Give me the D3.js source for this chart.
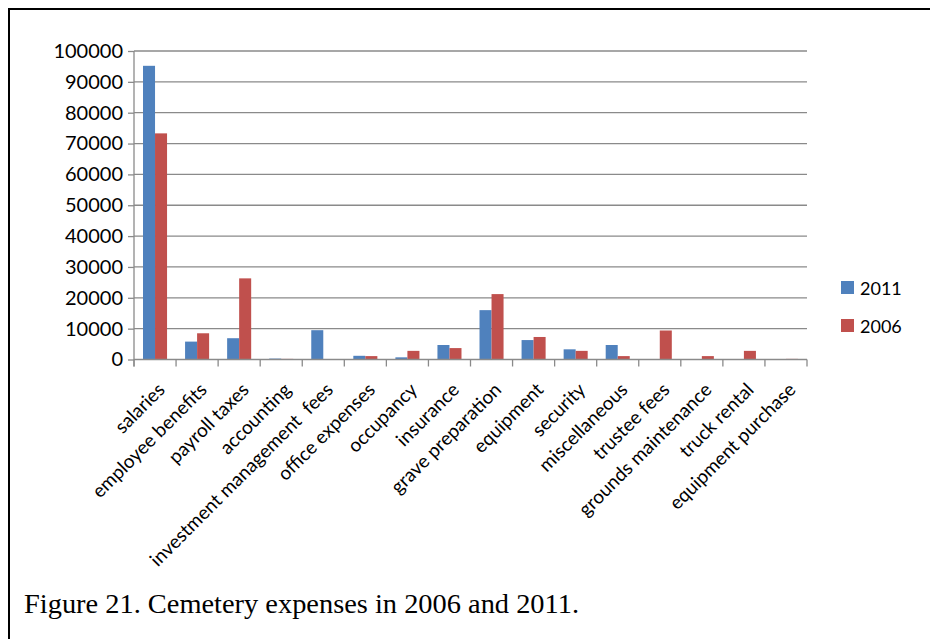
<!DOCTYPE html>
<html>
<head>
<meta charset="utf-8">
<script src="https://cdn.jsdelivr.net/npm/d3@7"></script>
<style>
  html, body { margin: 0; padding: 0; background: #fff; }
  svg { display: block; }
</style>
</head>
<body>
<svg id="chart" width="930" height="639"></svg>
<script>
// Cemetery expense categories and yearly amounts (USD)
const categories = [
  "salaries", "employee benefits", "payroll taxes", "accounting",
  "investment management  fees", "office expenses", "occupancy", "insurance",
  "grave preparation", "equipment", "security", "miscellaneous",
  "trustee fees", "grounds maintenance", "truck rental", "equipment purchase"
];
const values2011 = [95200, 5800, 6900, 300, 9500, 1200, 700, 4700, 16000, 6300, 3300, 4700, 0, 0, 0, 0];
const values2006 = [73300, 8500, 26300, 200, 0, 1100, 2800, 3700, 21200, 7300, 2800, 1100, 9400, 1100, 2800, 200];
const seriesNames = ["2011", "2006"];
const yTicks = [0, 10000, 20000, 30000, 40000, 50000, 60000, 70000, 80000, 90000, 100000];
const captionText = "Figure 21. Cemetery expenses in 2006 and 2011.";

const series = [values2011, values2006];
const colors = ["#4F81BD", "#C0504D"];
const sans = "Lato, 'Open Sans', sans-serif";

const svg = d3.select("#chart");

// frame lines (top and left edges)
svg.append("line").attr("x1", 8).attr("x2", 930).attr("y1", 9).attr("y2", 9)
  .attr("stroke", "#000").attr("stroke-width", 2);
svg.append("line").attr("x1", 9).attr("x2", 9).attr("y1", 8).attr("y2", 639)
  .attr("stroke", "#000").attr("stroke-width", 2);

const plot = { left: 134, right: 807, top: 51, bottom: 359.5 };

const x = d3.scaleBand().domain(categories).range([plot.left, plot.right]);
const y = d3.scaleLinear().domain([0, 100000]).range([plot.bottom, plot.top]);

// bars: two per category, Excel-style 150% gap width
const barW = x.bandwidth() / 3.5;
const sub = d3.scaleBand().domain(seriesNames).range([0, barW * 2]);

const g = svg.append("g");

// horizontal gridlines
g.selectAll("line.grid").data(yTicks.slice(1)).join("line")
  .attr("class", "grid")
  .attr("x1", plot.left).attr("x2", plot.right)
  .attr("y1", d => y(d)).attr("y2", d => y(d))
  .attr("stroke", "#8a8a8a").attr("stroke-width", 1.3);

// y axis
const yAxis = d3.axisLeft(y).tickValues(yTicks).tickFormat(d3.format("d"))
  .tickSize(6).tickPadding(5);
const yg = svg.append("g").attr("transform", `translate(${plot.left},0)`).call(yAxis);
yg.select(".domain").remove();
yg.selectAll(".tick line").attr("stroke", "#8a8a8a").attr("stroke-width", 1.3);
yg.selectAll(".tick text").attr("font-family", sans).attr("font-size", 20).attr("fill", "#000");
svg.append("line").attr("x1", plot.left).attr("x2", plot.left)
  .attr("y1", plot.top).attr("y2", plot.bottom + 7)
  .attr("stroke", "#8a8a8a").attr("stroke-width", 1.3);

// bars
seriesNames.forEach((name, si) => {
  g.selectAll(`rect.s${si}`).data(categories).join("rect")
    .attr("class", `s${si}`)
    .attr("x", c => x(c) + barW * 0.75 + sub(name))
    .attr("width", sub.bandwidth())
    .attr("y", (c, i) => y(series[si][i]))
    .attr("height", (c, i) => y(0) - y(series[si][i]))
    .attr("fill", colors[si]);
});

// x axis line and category boundary ticks
svg.append("line").attr("x1", plot.left).attr("x2", plot.right)
  .attr("y1", plot.bottom).attr("y2", plot.bottom)
  .attr("stroke", "#8a8a8a").attr("stroke-width", 1.3);
const bounds = categories.map(c => x(c)).concat([x.range()[1]]);
svg.selectAll("line.xt").data(bounds).join("line")
  .attr("class", "xt")
  .attr("x1", d => d).attr("x2", d => d)
  .attr("y1", plot.bottom).attr("y2", plot.bottom + 7)
  .attr("stroke", "#8a8a8a").attr("stroke-width", 1.3);

// rotated category labels
svg.selectAll("text.cat").data(categories).join("text")
  .attr("class", "cat")
  .attr("transform", c => `translate(${x(c) + x.bandwidth() / 2 + 11},391) rotate(-45)`)
  .attr("text-anchor", "end")
  .attr("font-family", sans).attr("font-size", 19).attr("fill", "#000")
  .style("white-space", "pre")
  .text(c => c);

// legend
const lg = svg.append("g");
seriesNames.forEach((name, i) => {
  lg.append("rect").attr("x", 841).attr("y", 281 + i * 38).attr("width", 13).attr("height", 13)
    .attr("fill", colors[i]);
  lg.append("text").attr("x", 860).attr("y", 295 + i * 38)
    .attr("font-family", sans).attr("font-size", 18).attr("fill", "#000").text(name);
});

// figure caption
svg.append("text").attr("x", 24).attr("y", 613)
  .attr("font-family", "'Liberation Serif', 'DejaVu Serif', serif")
  .attr("font-size", 27).attr("fill", "#000")
  .attr("textLength", 555).attr("lengthAdjust", "spacingAndGlyphs")
  .text(captionText);
</script>
</body>
</html>
